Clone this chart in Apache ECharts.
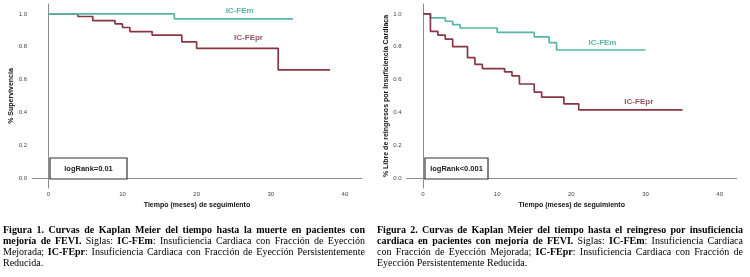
<!DOCTYPE html>
<html><head><meta charset="utf-8">
<script src="https://cdn.jsdelivr.net/npm/echarts@6/dist/echarts.min.js"></script>
<style>html,body{margin:0;padding:0;background:#fff}#c{width:750px;height:277px}</style>
</head><body><div id="c"></div>
<script>
// ---- Data ----
const xTicks = [0, 10, 20, 30, 40];
const yTicks = [0, 0.2, 0.4, 0.6, 0.8, 1.0];

// Figure 1: survival
const f1mTime = [0, 17, 33];
const f1mSurv = [1.0, 0.97, 0.97];
const f1prTime = [0, 4, 6, 9, 10, 11, 14, 18, 20, 31, 38];
const f1prSurv = [1.0, 0.984, 0.959, 0.939, 0.917, 0.892, 0.87, 0.829, 0.79, 0.659, 0.659];

// Figure 2: free of readmission
const f2mTime = [0, 1, 3, 4, 5, 10, 15, 17, 18, 30];
const f2mSurv = [1.0, 0.975, 0.955, 0.934, 0.914, 0.887, 0.86, 0.825, 0.78, 0.78];
const f2prTime = [0, 1, 2, 3, 4, 6, 7, 8, 11, 12, 13, 15, 16, 19, 21, 35];
const f2prSurv = [1.0, 0.893, 0.871, 0.846, 0.80, 0.733, 0.692, 0.667, 0.647, 0.622, 0.573, 0.524, 0.493, 0.452, 0.415, 0.415];

const seriesNames = ['IC-FEm', 'IC-FEpr'];
const logRankTexts = ['logRank=0.01', 'logRank<0.001'];
const yTitles = ['% Supervivencia', '% Libre de reingresos por Insuficiencia Cardiaca'];
const xTitle = 'Tiempo (meses) de seguimiento';

const caption1 = [
  [['b', 'Figura 1. Curvas de Kaplan Meier del tiempo hasta la muerte en pacientes con']],
  [['b', 'mejoría de FEVI.'], ['n', ' Siglas: '], ['b', 'IC-FEm'], ['n', ': Insuficiencia Cardiaca con Fracción de Eyección']],
  [['n', 'Mejorada; '], ['b', 'IC-FEpr'], ['n', ': Insuficiencia Cardiaca con Fracción de Eyección Persistentemente']],
  [['n', 'Reducida.']]
];
const caption2 = [
  [['b', 'Figura 2. Curvas de Kaplan Meier del tiempo hasta el reingreso por insuficiencia']],
  [['b', 'cardiaca en pacientes con mejoría de FEVI.'], ['n', ' Siglas: '], ['b', 'IC-FEm'], ['n', ': Insuficiencia Cardiaca']],
  [['n', 'con Fracción de Eyección Mejorada; '], ['b', 'IC-FEpr'], ['n', ': Insuficiencia Cardiaca con Fracción de']],
  [['n', 'Eyección Persistentemente Reducida.']]
];

// ---- Styles / layout ----
const TEAL = '#56b6a7', RED = '#8a3543';
const TEAL_TXT = '#2f9f8d', RED_TXT = '#7a1f30';
const labelPos = [
  [[25.8, 1.018], [27.0, 0.854]],
  [[24.2, 0.824], [29.1, 0.464]]
];
const gridLefts = [32, 406.7];

const pairs = (xs, ys) => xs.map((x, i) => [x, ys[i]]);

const grids = gridLefts.map(l => ({ left: l, top: 4, width: 330, height: 184 }));
const axisFont = { fontFamily: 'Liberation Sans', fontSize: 6, color: '#444' };
const xAxes = [0, 1].map(i => ({
  type: 'value', gridIndex: i, min: -2.2, max: 42.3,
  name: xTitle, nameLocation: 'middle', nameGap: 12,
  nameTextStyle: { fontFamily: 'Liberation Sans', fontSize: 7, fontWeight: 'bold', color: '#111' },
  axisLine: { show: true, lineStyle: { color: '#8c8c8c', width: 1 } },
  axisTick: { show: false },
  splitLine: { show: false },
  axisLabel: Object.assign({ customValues: xTicks, margin: 3 }, axisFont)
}));
const yAxes = [0, 1].map(i => ({
  type: 'value', gridIndex: i, min: -0.06, max: 1.06,
  name: yTitles[i], nameLocation: 'middle', nameGap: 16, nameRotate: 90,
  nameTextStyle: { fontFamily: 'Liberation Sans', fontSize: 7, fontWeight: 'bold', color: '#111' },
  axisLine: { show: true, lineStyle: { color: '#8c8c8c', width: 1 } },
  axisTick: { show: false },
  splitLine: { show: false },
  axisLabel: Object.assign({ customValues: yTicks, margin: 5, formatter: v => v.toFixed(1) }, axisFont)
}));

function stepSeries(data, idx, color, z) {
  return { type: 'line', step: 'end', xAxisIndex: idx, yAxisIndex: idx, data, symbol: 'none',
    lineStyle: { color, width: 1.7 }, z, silent: true };
}
function labelSeries(idx, k, color) {
  return { type: 'scatter', xAxisIndex: idx, yAxisIndex: idx, symbolSize: 1,
    itemStyle: { color: 'rgba(0,0,0,0)' }, silent: true,
    data: [labelPos[idx][k]],
    label: { show: true, position: 'inside', formatter: seriesNames[k], color,
      fontFamily: 'Liberation Sans', fontSize: 8, fontWeight: 'bold' } };
}

const series = [
  stepSeries(pairs(f1prTime, f1prSurv), 0, RED, 2),
  stepSeries(pairs(f1mTime, f1mSurv), 0, TEAL, 3),
  stepSeries(pairs(f2mTime, f2mSurv), 1, TEAL, 2),
  stepSeries(pairs(f2prTime, f2prSurv), 1, RED, 3),
  labelSeries(0, 0, TEAL_TXT), labelSeries(0, 1, RED_TXT),
  labelSeries(1, 0, TEAL_TXT), labelSeries(1, 1, RED_TXT)
];

// ---- Caption layout (justified) ----
const CAP_SIZE = 10;
const cv = document.createElement('canvas').getContext('2d');
function fontOf(bold) { return (bold ? 'bold ' : '') + CAP_SIZE + 'px "Liberation Serif"'; }
function measure(t, bold) { cv.font = fontOf(bold); return cv.measureText(t).width; }
function layoutCaption(lines, x0, width, y0, lh) {
  const els = [];
  lines.forEach((segs, li) => {
    const words = []; let cur = [];
    segs.forEach(([st, txt]) => {
      txt.split(' ').forEach((p, i) => {
        if (i > 0) { if (cur.length) words.push(cur); cur = []; }
        if (p) cur.push([st, p]);
      });
    });
    if (cur.length) words.push(cur);
    const widths = words.map(w => w.reduce((s, [st, t]) => s + measure(t, st === 'b'), 0));
    const total = widths.reduce((a, b) => a + b, 0);
    const last = li === lines.length - 1;
    const gap = last ? measure(' ', false) : (width - total) / (words.length - 1);
    let x = x0;
    const y = y0 + li * lh;
    words.forEach((w, i) => {
      let px = x;
      w.forEach(([st, t]) => {
        els.push({ type: 'text', x: px, y, silent: true,
          style: { text: t, font: fontOf(st === 'b'), fill: '#000', verticalAlign: 'middle', align: 'left' } });
        px += measure(t, st === 'b');
      });
      x += widths[i] + gap;
    });
  });
  return els;
}

const graphics = [];
[[50, 127], [425, 488]].forEach(([a, b], i) => {
  graphics.push({ type: 'rect', shape: { x: a, y: 158, width: b - a, height: 21 },
    style: { fill: '#fff', stroke: '#333', lineWidth: 1.2 }, z: 10 });
  graphics.push({ type: 'text', x: (a + b) / 2, y: 168.5, z: 11,
    style: { text: logRankTexts[i], font: 'bold 7.5px "Liberation Sans"', fill: '#222', align: 'center', verticalAlign: 'middle' } });
});
graphics.push(...layoutCaption(caption1, 3, 362, 230, 11));
graphics.push(...layoutCaption(caption2, 377, 366, 230, 11));

const chart = echarts.init(document.getElementById('c'), null, { renderer: 'canvas' });
chart.setOption({
  animation: false,
  grid: grids, xAxis: xAxes, yAxis: yAxes, series,
  graphic: graphics
});
</script></body></html>
